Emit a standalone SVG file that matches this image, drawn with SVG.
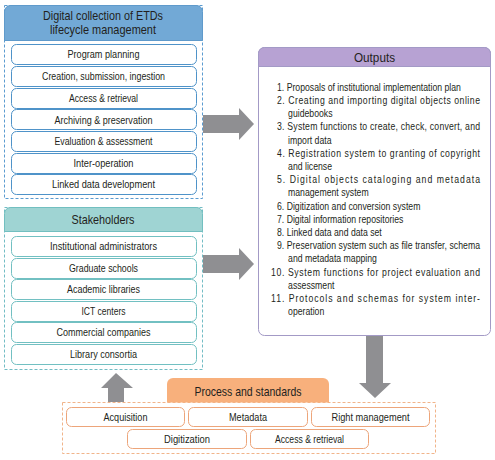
<svg xmlns="http://www.w3.org/2000/svg" width="495" height="460" viewBox="0 0 495 460">
<style>
text{font-family:"Liberation Sans",Arial,sans-serif;fill:#231f20;}
.hd{font-size:13px;text-anchor:middle;}
.it{font-size:11px;text-anchor:middle;}
.ot{font-size:11px;}
.box{fill:#fff;stroke-width:1;}
.blue{stroke:#4f93c9;}
.teal{stroke:#72c0c2;}
.orng{stroke:#eda57a;}
.arrow{fill:#8f8f92;}
</style>
<rect width="495" height="460" fill="#fff"/>

<g id="lifecycle">
<rect x="4.5" y="5.5" width="198" height="193" fill="none" stroke="#5b9bd0" stroke-dasharray="3,2"/>
<path d="M4.5,40.5 V11.5 a6,6 0 0 1 6,-6 H196.5 a6,6 0 0 1 6,6 V40.5 Z" fill="#72a9d6" stroke="#5f9acb"/>
<text class="hd" x="103" y="19.5" textLength="120" lengthAdjust="spacingAndGlyphs">Digital collection of ETDs</text>
<text class="hd" x="103" y="33.5" textLength="106" lengthAdjust="spacingAndGlyphs">lifecycle management</text>
<rect class="box blue" x="11.5" y="44.5" width="185" height="20" rx="5"/>
<text class="it" x="103.5" y="58" textLength="72" lengthAdjust="spacingAndGlyphs">Program planning</text>
<rect class="box blue" x="11.5" y="66.5" width="185" height="20" rx="5"/>
<text class="it" x="103.5" y="80" textLength="123" lengthAdjust="spacingAndGlyphs">Creation, submission, ingestion</text>
<rect class="box blue" x="11.5" y="88.5" width="185" height="20" rx="5"/>
<text class="it" x="103.5" y="102" textLength="69" lengthAdjust="spacingAndGlyphs">Access &amp; retrieval</text>
<rect class="box blue" x="11.5" y="109.5" width="185" height="20" rx="5"/>
<text class="it" x="103.5" y="123.5" textLength="98" lengthAdjust="spacingAndGlyphs">Archiving &amp; preservation</text>
<rect class="box blue" x="11.5" y="131.5" width="185" height="20" rx="5"/>
<text class="it" x="103.5" y="145" textLength="98" lengthAdjust="spacingAndGlyphs">Evaluation &amp; assessment</text>
<rect class="box blue" x="11.5" y="153.5" width="185" height="20" rx="5"/>
<text class="it" x="103.5" y="167" textLength="60" lengthAdjust="spacingAndGlyphs">Inter-operation</text>
<rect class="box blue" x="11.5" y="174.5" width="185" height="20" rx="5"/>
<text class="it" x="103.5" y="188" textLength="103" lengthAdjust="spacingAndGlyphs">Linked data development</text>
</g>

<g id="stakeholders">
<rect x="4.5" y="207.5" width="198" height="162" fill="none" stroke="#72bcc4" stroke-dasharray="3,2"/>
<path d="M4.5,231.5 V213.5 a6,6 0 0 1 6,-6 H196.5 a6,6 0 0 1 6,6 V231.5 Z" fill="#9fd4d3" stroke="#72bfc0"/>
<text class="hd" x="103" y="224" textLength="63" lengthAdjust="spacingAndGlyphs">Stakeholders</text>
<rect class="box teal" x="11.5" y="236.5" width="185" height="20" rx="5"/>
<text class="it" x="103.5" y="250" textLength="107" lengthAdjust="spacingAndGlyphs">Institutional administrators</text>
<rect class="box teal" x="11.5" y="258.5" width="185" height="20" rx="5"/>
<text class="it" x="103.5" y="271.5" textLength="69" lengthAdjust="spacingAndGlyphs">Graduate schools</text>
<rect class="box teal" x="11.5" y="279.5" width="185" height="20" rx="5"/>
<text class="it" x="103.5" y="293" textLength="73" lengthAdjust="spacingAndGlyphs">Academic libraries</text>
<rect class="box teal" x="11.5" y="301.5" width="185" height="20" rx="5"/>
<text class="it" x="103.5" y="315" textLength="44" lengthAdjust="spacingAndGlyphs">ICT centers</text>
<rect class="box teal" x="11.5" y="322.5" width="185" height="20" rx="5"/>
<text class="it" x="103.5" y="336" textLength="94" lengthAdjust="spacingAndGlyphs">Commercial companies</text>
<rect class="box teal" x="11.5" y="344.5" width="185" height="20" rx="5"/>
<text class="it" x="103.5" y="358" textLength="67" lengthAdjust="spacingAndGlyphs">Library consortia</text>
</g>

<g id="outputs">
<rect x="258.5" y="47.5" width="232" height="288" rx="6" fill="#fff" stroke="#a39ac6"/>
<path d="M258.5,66.5 V53.5 a6,6 0 0 1 6,-6 H484.5 a6,6 0 0 1 6,6 V66.5 Z" fill="#b7a2d3" stroke="#a39ac6"/>
<text class="hd" x="374.5" y="61.5" textLength="41" lengthAdjust="spacingAndGlyphs">Outputs</text>
<g transform="translate(277,0) scale(0.79,1)">
<text class="ot" x="0" y="90.8">1. Proposals of institutional implementation plan</text>
<text class="ot" x="0" y="104" textLength="257" lengthAdjust="spacing">2. Creating and importing digital objects online</text>
<text class="ot" x="14" y="117.2">guidebooks</text>
<text class="ot" x="0" y="130.4" textLength="257" lengthAdjust="spacing">3. System functions to create, check, convert, and</text>
<text class="ot" x="14" y="143.6">import data</text>
<text class="ot" x="0" y="156.8" textLength="257" lengthAdjust="spacing">4. Registration system to granting of copyright</text>
<text class="ot" x="14" y="170">and license</text>
<text class="ot" x="0" y="183.2" textLength="257" lengthAdjust="spacing">5. Digital objects cataloging and metadata</text>
<text class="ot" x="14" y="196.4">management system</text>
<text class="ot" x="0" y="209.6">6. Digitization and conversion system</text>
<text class="ot" x="0" y="222.8">7. Digital information repositories</text>
<text class="ot" x="0" y="236">8. Linked data and data set</text>
<text class="ot" x="0" y="249.2" textLength="257" lengthAdjust="spacing">9. Preservation system such as file transfer, schema</text>
<text class="ot" x="14" y="262.4">and metadata mapping</text>
<text class="ot" x="-7.6" y="275.6" textLength="264.6" lengthAdjust="spacing">10. System functions for project evaluation and</text>
<text class="ot" x="14" y="288.8">assessment</text>
<text class="ot" x="-7.6" y="302" textLength="264.6" lengthAdjust="spacing">11. Protocols and schemas for system inter-</text>
<text class="ot" x="14" y="315.2">operation</text>
</g>
</g>

<g id="process">
<rect x="62.5" y="402.5" width="373" height="51" fill="none" stroke="#f1b48a" stroke-dasharray="3,2"/>
<path d="M167,402.5 V384 a6,6 0 0 1 6,-6 H323 a6,6 0 0 1 6,6 V402.5 Z" fill="#f8b07c"/>
<text class="hd" x="248" y="395.5" textLength="107" lengthAdjust="spacingAndGlyphs">Process and standards</text>
<rect class="box orng" x="66.5" y="407.5" width="118" height="19" rx="5"/>
<text class="it" x="125.5" y="420.5" textLength="44" lengthAdjust="spacingAndGlyphs">Acquisition</text>
<rect class="box orng" x="188.5" y="407.5" width="119" height="19" rx="5"/>
<text class="it" x="248" y="420.5" textLength="38" lengthAdjust="spacingAndGlyphs">Metadata</text>
<rect class="box orng" x="311.5" y="407.5" width="118" height="19" rx="5"/>
<text class="it" x="370.5" y="420.5" textLength="78" lengthAdjust="spacingAndGlyphs">Right management</text>
<rect class="box orng" x="127.5" y="429.5" width="119" height="19" rx="5"/>
<text class="it" x="187" y="442.5" textLength="46" lengthAdjust="spacingAndGlyphs">Digitization</text>
<rect class="box orng" x="250.5" y="429.5" width="118" height="19" rx="5"/>
<text class="it" x="309.5" y="442.5" textLength="69" lengthAdjust="spacingAndGlyphs">Access &amp; retrieval</text>
</g>

<g id="connectors">
<polygon class="arrow" points="203,115 239,115 239,108 254,124 239,140 239,133 203,133"/>
<polygon class="arrow" points="203,255 239,255 239,248 254,264 239,280 239,273 203,273"/>
<polygon class="arrow" points="366,336 383,336 383,383 391,383 375,398 359,383 366,383"/>
<polygon class="arrow" points="108,402 124,402 124,388 133,388 116,373 101,388 108,388"/>
</g>
</svg>
